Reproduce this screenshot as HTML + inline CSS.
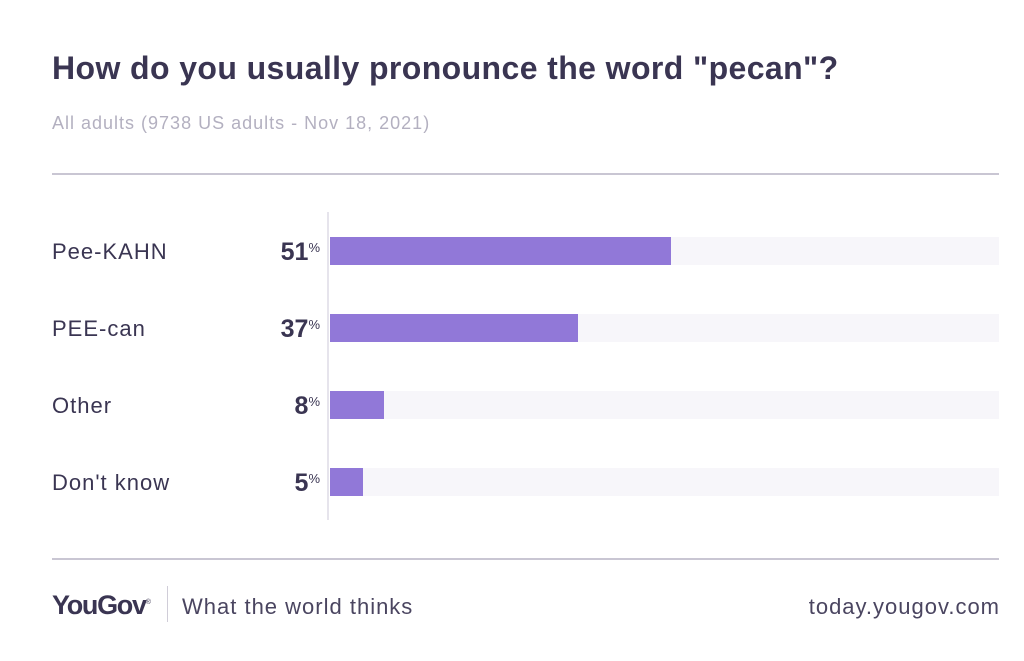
<!DOCTYPE html>
<html><head><meta charset="utf-8"><style>
body{margin:0;width:1024px;height:661px;background:#fff;font-family:"Liberation Sans",sans-serif;position:relative;overflow:hidden;color:#35304a}
.abs{position:absolute}
</style></head><body>
<div class="abs" style="left:52px;top:50px;font-size:32px;font-weight:bold;color:#3a3552;letter-spacing:0.4px;white-space:nowrap">How do you usually pronounce the word "pecan"?</div>
<div class="abs" style="left:52px;top:113px;font-size:18px;color:#b3b0c0;letter-spacing:1px;white-space:nowrap">All adults (9738 US adults - Nov 18, 2021)</div>
<div class="abs" style="left:52px;top:173px;width:947px;height:2px;background:#c9c6d3"></div>
<div class="abs" style="left:327px;top:212px;width:2px;height:308px;background:#e6e4ec"></div>
<div id="rows"></div>
<div class="abs" style="left:52px;top:558px;width:947px;height:2px;background:#c9c6d3"></div>
<div class="abs" style="left:52px;top:590px;font-size:27px;font-weight:bold;color:#3a3552;letter-spacing:-1.3px">YouGov<sup style="font-size:7px;font-weight:normal">®</sup></div>
<div class="abs" style="left:167px;top:586px;width:1px;height:36px;background:#d0cdd8"></div>
<div class="abs" style="left:182px;top:594px;font-size:22px;color:#4a4560;letter-spacing:1px;white-space:nowrap">What the world thinks</div>
<div class="abs" style="right:24px;top:594px;font-size:22px;color:#4a4560;letter-spacing:1px;white-space:nowrap">today.yougov.com</div>
<script>
const categories=["Pee-KAHN","PEE-can","Other","Don't know"];
const values=[51,37,8,5];
const x0=330,x1=999,rowTop=237,rowStep=77,barH=28;
function xs(v){return x0+(x1-x0)*v/100;}
const root=document.getElementById('rows');
categories.forEach((c,i)=>{
  const y=rowTop+i*rowStep;
  const lab=document.createElement('div');lab.className='abs';
  
  
  lab.style.cssText=`left:52px;top:${y+2}px;font-size:22px;color:#3a3552;letter-spacing:1px;white-space:nowrap`;lab.textContent=c;root.appendChild(lab);
  const val=document.createElement('div');val.className='abs';
  
  
  val.style.cssText=`right:${1024-320}px;top:${y+1}px;font-size:25px;font-weight:bold;color:#3a3552;white-space:nowrap`;
  val.innerHTML=values[i]+'<span style="font-size:13px;font-weight:normal;vertical-align:top;position:relative;top:2px">%</span>';root.appendChild(val);
  const tr=document.createElement('div');tr.className='abs';
  
  
  tr.style.cssText=`left:${x0}px;top:${y}px;width:${x1-x0}px;height:${barH}px;background:#f7f6fa`;root.appendChild(tr);
  const b=document.createElement('div');b.className='abs';
  
  
  b.style.cssText=`left:${x0}px;top:${y}px;width:${xs(values[i])-x0}px;height:${barH}px;background:#9178d8`;root.appendChild(b);
});
</script>
</body></html>
